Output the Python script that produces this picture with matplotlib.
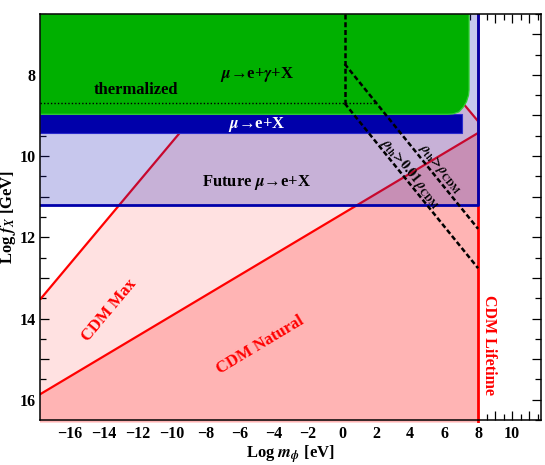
import numpy as np
import matplotlib
matplotlib.use('Agg')
import matplotlib.pyplot as plt
from matplotlib.patches import Polygon, Rectangle
from matplotlib.ticker import MultipleLocator, FuncFormatter

plt.rcParams['font.family'] = ['Liberation Serif', 'DejaVu Serif']
plt.rcParams['font.weight'] = 'bold'
plt.rcParams['axes.labelweight'] = 'bold'
plt.rcParams['mathtext.fontset'] = 'stix'

# axis ranges (Log m_phi [eV], Log f_X [GeV])
x_range = [-17.75, 11.7]
y_range = [16.5, 6.5]

# red CDM constraints: lines y = a + b*x
cdm_max = [4.66, -0.5]
cdm_max_right = [5.14, 0.5]
cdm_natural = [11.43, -0.25]
cdm_lifetime_x = 8.0

# muon decay constraints
future_f = 11.2
future_m = 8.0
mu_eX_f = [8.97, 9.44]
mu_eX_m = 7.08
green_m = [x_range[0], 7.47, 7.47, 7.44, 7.32, 7.12, 6.88, 6.53, 6.2, x_range[0]]
green_f = [6.5, 6.5, 8.37, 8.50, 8.66, 8.80, 8.91, 8.96, 8.97, 8.97]

# thermal relic lines
therm_m = 0.16
therm_f = 8.70
therm_dot_end = 1.92
rho_slope = 0.518
rho_001_f0 = 8.70
rho_1_f0 = 7.73
rho_end_m = 8.0

light_pink = '#ffe1e1'
dark_pink = '#ffb4b4'
red = '#ff0000'
navy = '#0000aa'

fig = plt.figure(figsize=(5.45, 4.65), dpi=100)
ax = fig.add_axes([40/545, 1-420/465, 501/545, 406/465])
ax.set_xlim(x_range)
ax.set_ylim(y_range)

clip = Rectangle((0, -0.008), 1, 1.008, transform=ax.transAxes, facecolor='none', edgecolor='none')
ax.add_patch(clip)

x0 = x_range[0]
ybot = 16.56
# light pink region (CDM Max)
xa = (cdm_max_right[0] - cdm_max[0]) / (cdm_max[1] - cdm_max_right[1])
xs = np.array([x0, xa, cdm_lifetime_x])
ys = np.array([cdm_max[0] + cdm_max[1]*x0, cdm_max[0] + cdm_max[1]*xa,
               cdm_max_right[0] + cdm_max_right[1]*cdm_lifetime_x])
p1 = Polygon(np.column_stack([np.r_[xs, cdm_lifetime_x, x0], np.r_[ys, ybot, ybot]]),
             facecolor=light_pink, edgecolor='none', zorder=1)
ax.add_patch(p1)
p1.set_clip_path(clip)
ax.plot(xs, ys, color=red, lw=1.6, zorder=3, solid_capstyle='butt')

# dark pink region (CDM Natural)
xn = np.array([x0, cdm_lifetime_x])
yn = cdm_natural[0] + cdm_natural[1]*xn
p2 = Polygon(np.column_stack([np.r_[xn, cdm_lifetime_x, x0], np.r_[yn, ybot, ybot]]),
             facecolor=dark_pink, edgecolor='none', zorder=2)
ax.add_patch(p2)
p2.set_clip_path(clip)
ax.plot(xn, yn, color=red, lw=1.6, zorder=3)
lt, = ax.plot([cdm_lifetime_x, cdm_lifetime_x], [ybot, y_range[1]], color=red, lw=2, zorder=3)
lt.set_clip_path(clip)

# future mu -> e + X
ax.add_patch(Rectangle((x0, y_range[1]), future_m - x0, future_f - y_range[1],
                       facecolor=(35/255, 35/255, 187/255), alpha=0.25, edgecolor='none', zorder=4))
ax.plot([x0, future_m, future_m], [future_f, future_f, y_range[1]], color=navy, lw=2, zorder=5)

# mu -> e + X
ax.add_patch(Rectangle((x0, mu_eX_f[0]), mu_eX_m - x0, mu_eX_f[1] - mu_eX_f[0],
                       facecolor=navy, edgecolor='#2a2acc', lw=0.8, zorder=6))
# mu -> e + gamma + X
ax.add_patch(Polygon(np.column_stack([green_m, green_f]), facecolor='#00b000',
                     edgecolor='#30d030', lw=0.9, zorder=7))

# thermal lines
ax.plot([therm_m, therm_m], [y_range[1], therm_f], color='k', lw=1.8, ls=(0, (2, 1.1)), zorder=8)
ax.plot([x0, therm_dot_end], [therm_f, therm_f], color='k', lw=1.0, ls=(0, (1, 1.5)), zorder=8)
rm = np.array([therm_m, rho_end_m])
ax.plot(rm, rho_001_f0 + rho_slope*(rm - therm_m), color='k', lw=1.8, ls=(0, (2, 1.1)), zorder=8)
ax.plot(rm, rho_1_f0 + rho_slope*(rm - therm_m), color='k', lw=1.8, ls=(0, (2, 1.1)), zorder=8)

# labels
fs = 12
ax.text(-5.0, 8.0, r'$\mu$→e+$\gamma$+X', ha='center', va='center', fontsize=fs, zorder=9)
ax.text(-12.1, 8.37, 'thermalized', ha='center', va='center', fontsize=fs, zorder=9)
ax.text(-5.0, 9.21, r'$\mu$→e+X', ha='center', va='center', fontsize=fs, color='white', zorder=9)
ax.text(-5.0, 10.66, r'Future $\mu$→e+X', ha='center', va='center', fontsize=fs, zorder=9)
ax.text(-13.66, 13.79, 'CDM Max', ha='center', va='center', fontsize=fs, color=red, rotation=50, zorder=9)
ax.text(-4.8, 14.65, 'CDM Natural', ha='center', va='center', fontsize=fs, color=red, rotation=31, zorder=9)
ax.text(8.65, 14.65, 'CDM Lifetime', ha='center', va='center', fontsize=11.5, color=red, rotation=-90, zorder=9)
ax.text(4.02, 10.42, r'$\rho_{\rm th}\!>\!0.01\,\rho_{\rm CDM}$', ha='center', va='center', fontsize=10,
        rotation=-51, zorder=9)
ax.text(5.75, 10.30, r'$\rho_{\rm th}\!>\!\rho_{\rm CDM}$', ha='center', va='center', fontsize=10,
        rotation=-51, zorder=9)

ax.set_xlabel(r'Log $m_\phi$ [eV]', fontsize=12, labelpad=1)
ax.set_ylabel(r'Log $f_X$ [GeV]', fontsize=12)
ax.yaxis.set_label_coords(-0.043, 0.5)

def fmt(v, pos):
    n = int(round(v))
    if n % 2:
        return ''
    return str(n).replace('-', '−')

for axis in (ax.xaxis, ax.yaxis):
    axis.set_major_locator(MultipleLocator(1))
    axis.set_minor_locator(MultipleLocator(0.5))
    axis.set_major_formatter(FuncFormatter(fmt))
ax.tick_params(which='both', direction='in', top=True, right=True, width=0.9, labelsize=11.5)
ax.tick_params(which='major', length=6.5)
ax.tick_params(which='minor', length=4.3)
ax.tick_params(axis='x', pad=4)
ax.tick_params(axis='y', pad=3)
for s in ax.spines.values():
    s.set_linewidth(1.1)
    s.set_zorder(10)

fig.savefig('out.png', dpi=100)
